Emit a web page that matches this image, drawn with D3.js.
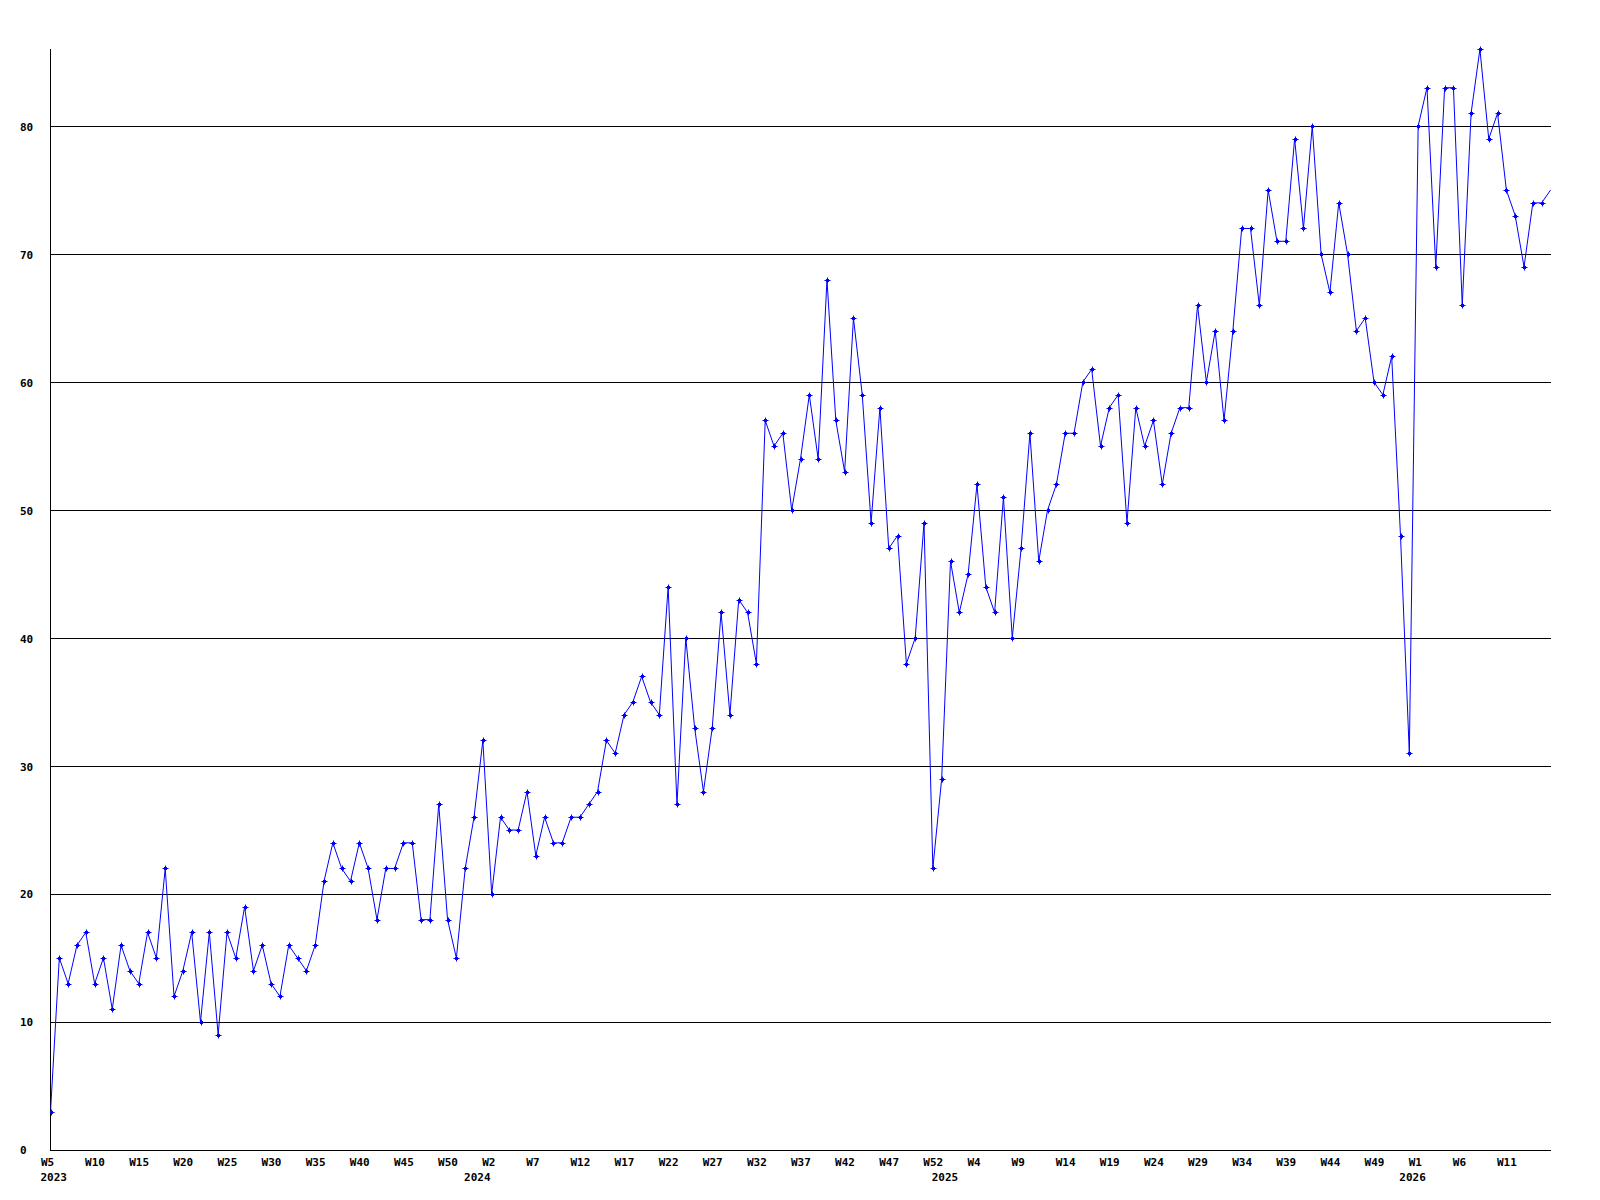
<!DOCTYPE html>
<html lang="en">
<head>
    <meta charset="UTF-8">
    <style>
        body { margin: 0; background: #fff; }
        .lbl text { font-family: "DejaVu Sans Mono", monospace; font-weight: bold; font-size: 11px; fill: #000; }
    </style>
    <script src="https://d3js.org/d3.v7.min.js"></script>
</head>
<body>
    <div id="chart"></div>
    <script>
        // weekly counts, starting 2023 W5
        var values2023 = [3, 15, 13, 16, 17, 13, 15, 11, 16, 14, 13, 17, 15, 22, 12, 14, 17, 10, 17, 9,
            17, 15, 19, 14, 16, 13, 12, 16, 15, 14, 16, 21, 24, 22, 21, 24, 22, 18, 22, 22,
            24, 24, 18, 18, 27, 18, 15, 22, 26];
        var values2024 = [32, 20, 26, 25, 25, 28, 23, 26, 24, 24, 26, 26, 27, 28, 32, 31, 34, 35, 37, 35,
            34, 44, 27, 40, 33, 28, 33, 42, 34, 43, 42, 38, 57, 55, 56, 50, 54, 59, 54, 68,
            57, 53, 65, 59, 49, 58, 47, 48, 38, 40, 49, 22, 29, 46];
        var values2025 = [42, 45, 52, 44, 42, 51, 40, 47, 56, 46, 50, 52, 56, 56, 60, 61, 55, 58, 59, 49,
            58, 55, 57, 52, 56, 58, 58, 66, 60, 64, 57, 64, 72, 72, 66, 75, 71, 71, 79, 72,
            80, 70, 67, 74, 70, 64, 65, 60, 59, 62, 48, 31];
        var values2026 = [80, 83, 69, 83, 83, 66, 81, 86, 79, 81, 75, 73, 69, 74, 74, 75];

        // x axis labels, one every 5 weeks
        var weekTicks = ["W5", "W10", "W15", "W20", "W25", "W30", "W35", "W40", "W45", "W50",
            "W2", "W7", "W12", "W17", "W22", "W27", "W32", "W37", "W42", "W47",
            "W52", "W4", "W9", "W14", "W19", "W24", "W29", "W34", "W39", "W44",
            "W49", "W1", "W6", "W11"];
        var yearLabels = ["2023", "2024", "2025", "2026"];
        var yearStartWeek = [0, 48, 101, 154]; // index of first week of each year
        var yTicks = [0, 10, 20, 30, 40, 50, 60, 70, 80];

        var data = values2023.concat(values2024, values2025, values2026);

        var W = 1600, H = 1200;
        var mLeft = 50.5, mRight = 1551, mTop = 49.3, mBottom = 1150;

        var svg = d3.select("#chart").append("svg")
            .attr("width", W).attr("height", H);

        var x = d3.scaleLinear().domain([0, data.length - 1]).range([mLeft, mRight - 0.5]);
        var y = d3.scaleLinear().domain([0, d3.max(data)]).range([mBottom, mTop]);

        svg.append("defs").append("clipPath").attr("id", "plot")
            .append("rect").attr("x", mLeft).attr("y", 0).attr("width", mRight - mLeft).attr("height", mBottom + 1);

        // gridlines
        svg.append("g").selectAll("line")
            .data(yTicks.filter(function (d) { return d > 0; }))
            .enter().append("line")
            .attr("x1", mLeft).attr("x2", mRight)
            .attr("y1", function (d) { return Math.round(y(d)) + 0.5; })
            .attr("y2", function (d) { return Math.round(y(d)) + 0.5; })
            .attr("stroke", "#000").attr("stroke-width", 1)
            .attr("shape-rendering", "crispEdges");

        // axis lines
        svg.append("line").attr("x1", mLeft).attr("x2", mLeft).attr("y1", mTop - 0.5).attr("y2", mBottom + 0.5)
            .attr("stroke", "#000").attr("shape-rendering", "crispEdges");
        svg.append("line").attr("x1", mLeft).attr("x2", mRight).attr("y1", mBottom + 0.5).attr("y2", mBottom + 0.5)
            .attr("stroke", "#000").attr("shape-rendering", "crispEdges");

        // y labels (left aligned at x=20)
        var yAxis = svg.append("g").attr("class", "lbl")
            .attr("transform", "translate(" + mLeft + ",0)")
            .call(d3.axisLeft(y).tickValues(yTicks).tickSize(0).tickFormat(d3.format("d")));
        yAxis.select(".domain").remove();
        yAxis.selectAll("text")
            .attr("x", 20 - mLeft)
            .attr("dy", "0.36em")
            .style("text-anchor", "start");

        // x labels
        var tickIdx = weekTicks.map(function (d, i) { return i * 5; });
        var xAxis = svg.append("g").attr("class", "lbl")
            .attr("transform", "translate(0," + mBottom + ")")
            .call(d3.axisBottom(x).tickValues(tickIdx).tickSize(0)
                .tickFormat(function (d, i) { return weekTicks[i]; }));
        xAxis.select(".domain").remove();
        xAxis.selectAll("text")
            .attr("y", 16).attr("dy", 0).attr("dx", -10)
            .style("text-anchor", "start");

        svg.append("g").attr("class", "lbl").selectAll("text")
            .data(yearLabels).enter().append("text")
            .attr("x", function (d, i) { return x(yearStartWeek[i]) - 10; })
            .attr("y", mBottom + 31)
            .text(function (d) { return d; });

        // series
        var g = svg.append("g").attr("clip-path", "url(#plot)");
        g.append("path")
            .datum(data)
            .attr("fill", "none")
            .attr("stroke", "#0000ff")
            .attr("stroke-width", 1)
            .attr("d", d3.line()
                .x(function (d, i) { return x(i); })
                .y(function (d) { return y(d); }));

        g.selectAll(".mk")
            .data(data.slice(0, data.length - 1))
            .enter().append("path")
            .attr("class", "mk")
            .attr("fill", "#0000ff")
            .attr("stroke", "#0000ff")
            .attr("stroke-width", 1)
            .attr("d", function (d, i) {
                var cx = Math.round(x(i)) + 0.5, cy = Math.round(y(d)) + 0.5;
                return "M" + (cx - 3) + "," + cy + "H" + (cx + 3) +
                    "M" + cx + "," + (cy - 3) + "V" + (cy + 3) +
                    "M" + cx + "," + (cy - 2) + "L" + (cx + 2) + "," + cy +
                    "L" + cx + "," + (cy + 2) + "L" + (cx - 2) + "," + cy + "Z";
            });
    </script>
</body>
</html>
